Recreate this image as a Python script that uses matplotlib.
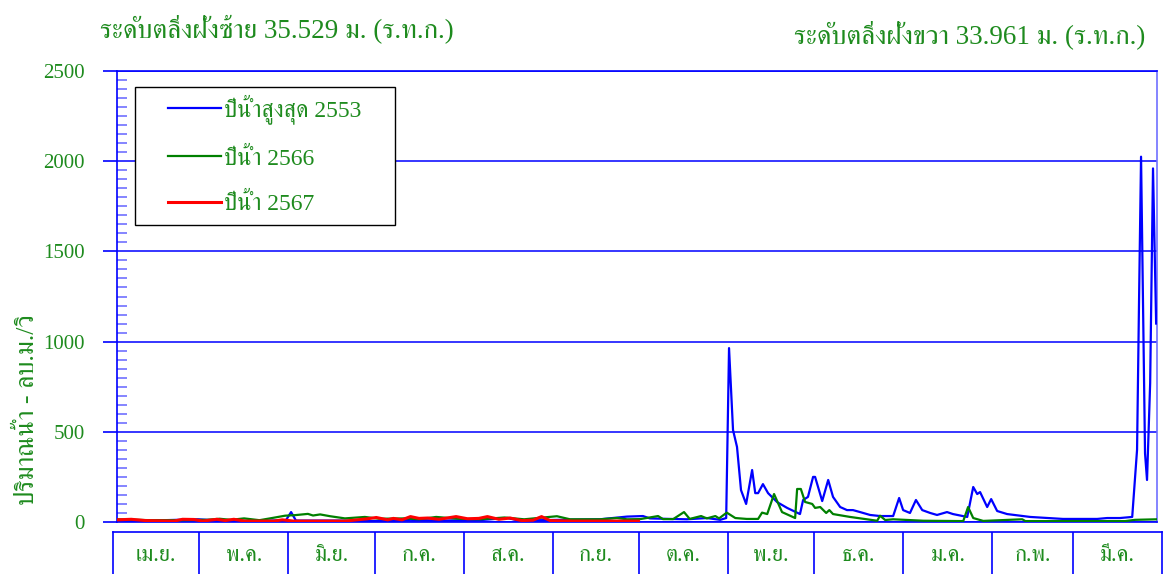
import matplotlib
matplotlib.use('Agg')
import matplotlib.pyplot as plt
from matplotlib import font_manager
from matplotlib.ft2font import FT2Font
from matplotlib.patches import Rectangle
from matplotlib.ticker import MultipleLocator, NullLocator


def thai_families():
    """Return installed families that carry Thai glyphs, serif ones first."""
    found = []
    for f in font_manager.fontManager.ttflist:
        if f.name in found:
            continue
        try:
            cmap = FT2Font(f.fname).get_charmap()
        except Exception:
            continue
        if 0x0E1B in cmap:
            found.append(f.name)
    found.sort(key=lambda n: 0 if 'Serif' in n else 1)
    return found


FAMILIES = ['Liberation Serif'] + thai_families() + ['DejaVu Sans']
plt.rcParams['font.family'] = FAMILIES

# ── data: day index from 1 Apr (0) to 31 Mar (365), discharge m3/s ──
days_2553 = [0, 11.6, 28.4, 39.7, 53.7, 59.3, 61.1, 62.8, 78, 92, 103, 113, 127, 137, 141,
             155.5, 169.5, 179, 184.6, 187, 194, 200, 207, 211.7, 213.8, 214.8, 216.2, 217.6,
             219, 220.8, 222.9, 224, 225, 226.7, 228.5, 231.7, 235.2, 239.7, 240.8, 242.5,
             244.3, 245, 247.5, 249.6, 251.3, 253.8, 256.2, 258.3, 260.8, 264.3, 267.8, 272.4,
             274.5, 275.9, 278.3, 280.4, 282.6, 285.4, 287.8, 291.3, 293.4, 298.4, 300.5,
             301.9, 302.9, 305.4, 306.8, 308.9, 312.4, 320.5, 332, 344, 347.5, 352, 356.3,
             358, 358.7, 359.4, 360.8, 361.5, 362.6, 363.6, 364.7]
flow_2553 = [10, 8, 15, 5, 8, 10, 55, 8, 8, 5, 12, 8, 10, 22, 8,
             12, 15, 30, 33, 20, 17, 15, 22, 12, 22, 964, 510, 416,
             177, 100, 288, 160, 160, 210, 160, 110, 78, 44, 122, 139,
             250, 250, 116, 233, 139, 83, 66, 66, 55, 39, 33, 33,
             133, 66, 50, 122, 66, 50, 39, 55, 44, 28, 194,
             155, 166, 83, 127, 61, 44, 28, 17, 17, 22, 22, 28,
             400, 1230, 2025, 380, 233, 770, 1960, 1100]

days_2566 = [0, 11.6, 22, 31.6, 36, 40, 44.6, 50, 54.4, 59, 62.5, 67, 68.8, 71.3, 74.8, 80,
             87, 92, 101.4, 106, 112, 119.7, 127.4, 136, 142.9, 154.4, 159, 163.2, 169.5,
             175.5, 179, 183.6, 189.9, 191.6, 195.2, 199, 201, 205, 207, 210, 211.3, 214, 217,
             221, 225, 226.4, 228.2, 230.6, 233.4, 238, 238.7, 240, 241.5, 244, 245, 246.8,
             248.9, 250, 251.3, 257.3, 266.8, 267.8, 269.6, 272.4, 283, 297, 298.7, 300.5,
             304, 317.7, 318.8, 353.8, 357.3, 365]
flow_2566 = [15, 10, 10, 12, 18, 12, 20, 10, 22, 35, 38, 45, 36, 42, 32, 20,
             28, 18, 20, 15, 28, 18, 15, 25, 15, 32, 15, 15, 15,
             22, 15, 16, 33, 16, 16, 55, 17, 33, 20, 33, 20, 52, 22,
             17, 17, 52, 44, 155, 55, 22, 183, 183, 111, 100, 78, 83,
             50, 66, 44, 28, 7, 35, 11, 15, 7, 5, 83, 22,
             6, 15, 5, 5, 12, 15]

days_2567 = [0, 5, 10, 20, 23, 27, 30, 35, 38, 41, 45, 55, 58, 62, 80, 88, 91, 95, 97, 100,
             103, 106, 109, 113, 119, 123, 127, 130, 134, 138, 142, 146, 149, 152, 160, 183]
flow_2567 = [12, 15, 8, 5, 15, 14, 5, 15, 8, 15, 5, 5, 12, 5, 5, 18, 25, 12, 20, 12,
             30, 20, 22, 15, 30, 18, 20, 30, 15, 22, 8, 10, 30, 8, 5, 5]

months = ['เม.ย.', 'พ.ค.', 'มิ.ย.', 'ก.ค.', 'ส.ค.', 'ก.ย.',
          'ต.ค.', 'พ.ย.', 'ธ.ค.', 'ม.ค.', 'ก.พ.', 'มี.ค.']
month_days = [30, 31, 30, 31, 31, 30, 31, 30, 31, 31, 28, 31]

series_labels = ['ปีน้ำสูงสุด 2553', 'ปีน้ำ 2566', 'ปีน้ำ 2567']
title_left = 'ระดับตลิ่งฝั่งซ้าย 35.529 ม. (ร.ท.ก.)'
title_right = 'ระดับตลิ่งฝั่งขวา 33.961 ม. (ร.ท.ก.)'
ylabel = 'ปริมาณน้ำ - ลบ.ม./วิ'

BLUE = '#0000FF'
LBLUE = '#6F6FFF'
GREEN = '#008000'
TGREEN = '#1E8B1E'
RED = '#FF0000'

W, H = 1163, 574
fig = plt.figure(figsize=(W / 100, H / 100), dpi=100)
ax = fig.add_axes([117 / W, 52 / H, 1040 / W, 451 / H])

ax.plot(days_2553, flow_2553, color=BLUE, lw=1.6, label=series_labels[0], zorder=3)
ax.plot(days_2566, flow_2566, color=GREEN, lw=1.6, label=series_labels[1], zorder=4)
ax.plot(days_2567, flow_2567, color=RED, lw=2.2, label=series_labels[2], zorder=5)

ax.set_xlim(0, 365)
ax.set_ylim(0, 2500)
ax.xaxis.set_major_locator(NullLocator())
ax.yaxis.set_major_locator(MultipleLocator(500))
ax.yaxis.set_minor_locator(MultipleLocator(50))
ax.tick_params(axis='y', which='major', direction='out', length=10, width=1.2,
               color=BLUE, labelcolor=TGREEN, labelsize=15, pad=13)
ax.tick_params(axis='y', which='minor', direction='in', length=7, width=1.2, color=LBLUE)
ax.grid(axis='y', which='major', color=BLUE, lw=1.1)
for side in ['left', 'top', 'bottom']:
    ax.spines[side].set_color(BLUE)
    ax.spines[side].set_linewidth(1.2)
ax.spines['right'].set_color(LBLUE)
ax.spines['right'].set_linewidth(1.2)

# legend box drawn separately so the entries can sit where the original has them
box = Rectangle((18 / 1040, 1 - 154 / 451), 260 / 1040, 138 / 451, transform=ax.transAxes,
                facecolor='white', edgecolor='black', lw=1.0, zorder=6)
ax.add_patch(box)
leg = ax.legend(loc='upper left', bbox_to_anchor=(51 / 1040, 1 - 23 / 451),
                fontsize=17, frameon=False, borderpad=0, borderaxespad=0,
                labelspacing=1.0, handlelength=2.25, handletextpad=0.12)
leg.set_zorder(7)
for t in leg.get_texts():
    t.set_color(TGREEN)

fig.text(100 / W, 1 - 29 / H, title_left, color=TGREEN, fontsize=19.5, ha='left', va='center')
fig.text(1145 / W, 1 - 35 / H, title_right, color=TGREEN, fontsize=19.5, ha='right', va='center')
fig.text(27 / W, 1 - 410 / H, ylabel, color=TGREEN, fontsize=18.5, rotation=90,
         ha='center', va='center')

# ── month strip under the chart ──
mx = fig.add_axes([113 / W, -2 / H, 1049 / W, 44 / H])
mx.set_xlim(0, sum(month_days))
mx.set_ylim(0, 1)
mx.set_xticks([])
mx.set_yticks([])
for side in ['left', 'top', 'right']:
    mx.spines[side].set_color(BLUE)
    mx.spines[side].set_linewidth(1.2)
mx.spines['bottom'].set_visible(False)
edge = 0
for name, nd in zip(months, month_days):
    mx.text(edge + nd / 2, 0.45, name, color=TGREEN, fontsize=16, ha='center', va='center')
    edge += nd
    if edge < sum(month_days):
        mx.axvline(edge, color=BLUE, lw=1.2)

fig.savefig('out.png', dpi=100, facecolor='white')
